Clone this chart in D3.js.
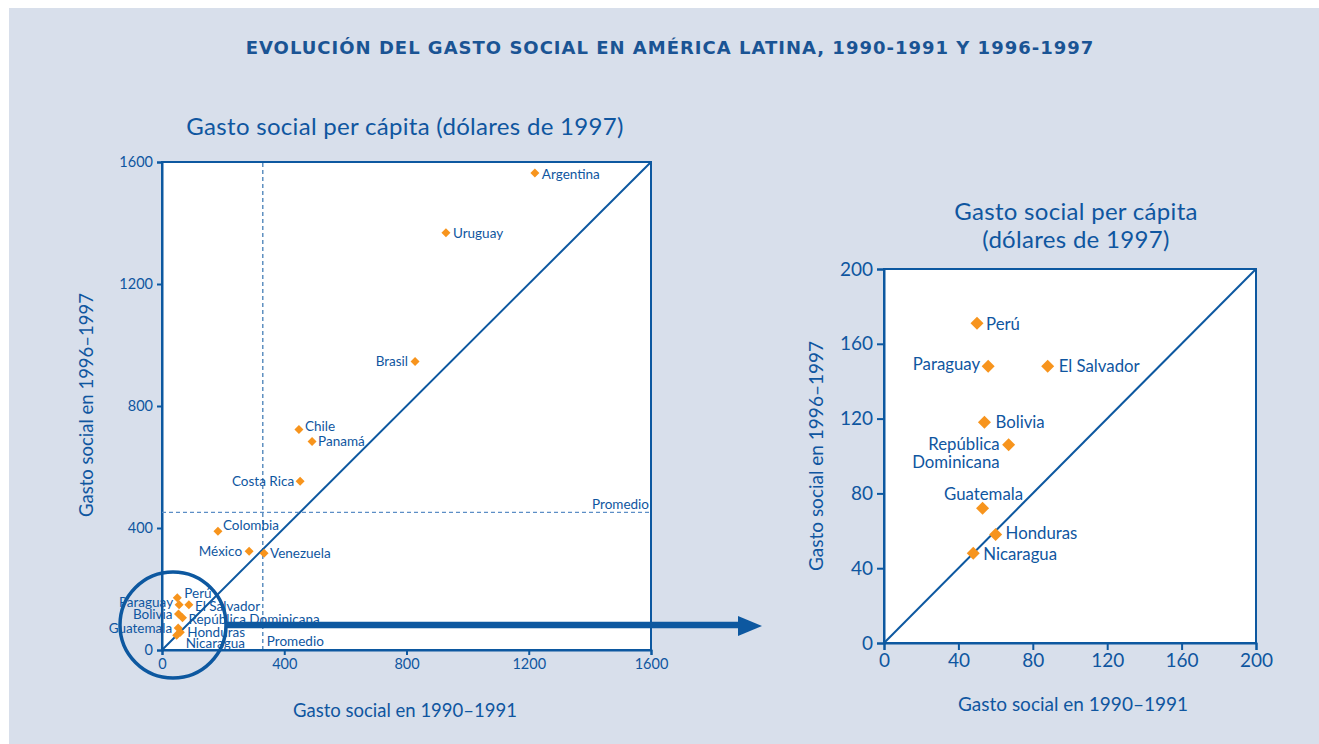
<html lang="es">
<head>
<meta charset="utf-8">
<title>Gasto social</title>
<style>
  body { margin: 0; background: #ffffff; }
  svg text { font-family: Lato, "Open Sans", sans-serif; fill: #0f56a0; }
</style>
</head>
<body>
<svg id="chart" width="1319" height="744"></svg>
<script src="https://cdn.jsdelivr.net/npm/d3@7"></script>
<script>
// datos: gasto social per capita (dolares de 1997)
var countries = ["Argentina", "Uruguay", "Brasil", "Chile", "Panamá", "Costa Rica", "Colombia", "México", "Venezuela",
                 "Perú", "Paraguay", "El Salvador", "Bolivia", "República Dominicana", "Guatemala", "Honduras", "Nicaragua"];
var gasto1990 = [1220, 929, 828, 448, 491, 452, 183, 285, 334, 50, 56, 88, 54, 67, 53, 60, 48];
var gasto1996 = [1564, 1368, 946, 723, 684, 553, 389, 324, 317, 171, 148, 148, 118, 106, 72, 58, 48];
var smallCountries = ["Perú", "Paraguay", "El Salvador", "Bolivia", "República Dominicana", "Guatemala", "Honduras", "Nicaragua"];
var promedio1990 = 330;
var promedio1996 = 451;
var ticksBig = [0, 400, 800, 1200, 1600];
var ticksSmall = [0, 40, 80, 120, 160, 200];

var blue = "#0d58a0";
var orange = "#f7941d";

// label placement (dx, dy, anchor)
var labelLeft = {
  "Argentina": [7, 1, "start"], "Uruguay": [7, 1, "start"], "Brasil": [-7, 0, "end"],
  "Chile": [6, -3, "start"], "Panamá": [6, 0, "start"], "Costa Rica": [-6, 0, "end"],
  "Colombia": [5, -6, "start"], "México": [-7, 0, "end"], "Venezuela": [6, 0, "start"],
  "Perú": [7, -5, "start"], "Paraguay": [-6, -3, "end"], "El Salvador": [6, 1, "start"],
  "Bolivia": [-6, 0, "end"], "República Dominicana": [6, 2, "start"], "Guatemala": [-6, 0, "end"],
  "Honduras": [7, 0, "start"], "Nicaragua": [9, 8, "start"]
};
var labelRight = {
  "Perú": [9, 1, "start"], "Paraguay": [-8, -2, "end"], "El Salvador": [11, 0, "start"],
  "Bolivia": [11, 0, "start"], "República Dominicana": [-9, -1, "end"], "Guatemala": [1, -14, "middle"],
  "Honduras": [10, -1, "start"], "Nicaragua": [10, 1, "start"]
};

var points = countries.map(function(c, i) { return { name: c, x: gasto1990[i], y: gasto1996[i] }; });
var smallPoints = points.filter(function(p) { return smallCountries.indexOf(p.name) >= 0; });

var svg = d3.select("#chart");

svg.append("rect").attr("x", 9).attr("y", 8).attr("width", 1310).attr("height", 736).attr("fill", "#d8dfeb");

svg.append("text").attr("x", 670).attr("y", 54).attr("text-anchor", "middle")
  .style("font-family", "'DejaVu Sans', sans-serif").style("font-weight", "bold").style("font-size", "18px")
  .style("letter-spacing", "1px").style("fill", "#1a5494")
  .text("EVOLUCIÓN DEL GASTO SOCIAL EN AMÉRICA LATINA, 1990-1991  Y 1996-1997");

function drawPanel(opt) {
  var x = d3.scaleLinear().domain([0, opt.max]).range([opt.left, opt.right]);
  var y = d3.scaleLinear().domain([0, opt.max]).range([opt.bottom, opt.top]);
  var g = svg.append("g");

  g.append("rect").attr("x", opt.left).attr("y", opt.top)
    .attr("width", opt.right - opt.left).attr("height", opt.bottom - opt.top)
    .attr("fill", "#ffffff").attr("stroke", blue).attr("stroke-width", 2);

  var xAxis = g.append("g").attr("transform", "translate(0," + opt.bottom + ")")
    .call(d3.axisBottom(x).tickValues(opt.ticks).tickSize(opt.tick).tickPadding(4).tickFormat(d3.format("d")));
  var yAxis = g.append("g").attr("transform", "translate(" + opt.left + ",0)")
    .call(d3.axisLeft(y).tickValues(opt.ticks).tickSize(opt.tick).tickPadding(4).tickFormat(d3.format("d")));
  [xAxis, yAxis].forEach(function(a) {
    a.select(".domain").attr("stroke", blue).attr("stroke-width", 2);
    a.selectAll(".tick line").attr("stroke", blue).attr("stroke-width", 2);
    a.selectAll(".tick text").style("font-size", opt.tickFont + "px").style("font-family", "Lato, sans-serif").attr("fill", blue);
  });

  g.append("line").attr("x1", x(0)).attr("y1", y(0)).attr("x2", x(opt.max)).attr("y2", y(opt.max))
    .attr("stroke", blue).attr("stroke-width", 2);

  if (opt.promedio) {
    g.append("line").attr("x1", x(promedio1990)).attr("x2", x(promedio1990))
      .attr("y1", y(0)).attr("y2", y(opt.max))
      .attr("stroke", blue).attr("stroke-width", 1).attr("stroke-dasharray", "4,3");
    g.append("line").attr("x1", x(0)).attr("x2", x(opt.max))
      .attr("y1", y(promedio1996)).attr("y2", y(promedio1996))
      .attr("stroke", "#5c8ec6").attr("stroke-width", 1.2).attr("stroke-dasharray", "4,3");
    g.append("text").attr("x", x(opt.max) - 2).attr("y", y(promedio1996) - 3).attr("text-anchor", "end")
      .style("font-size", opt.labelFont + "px").text("Promedio");
    g.append("text").attr("x", x(promedio1990) + 4).attr("y", y(0) - 4)
      .style("font-size", opt.labelFont + "px").text("Promedio");
  }

  var ds = opt.diamond;
  g.selectAll(".pt").data(opt.data).enter().append("path")
    .attr("d", "M0," + (-ds) + "L" + ds + ",0L0," + ds + "L" + (-ds) + ",0Z")
    .attr("transform", function(d) { return "translate(" + x(d.x) + "," + y(d.y) + ")"; })
    .attr("fill", orange);

  g.selectAll(".lbl").data(opt.data).enter().append("text")
    .attr("x", function(d) { return x(d.x) + opt.labels[d.name][0]; })
    .attr("y", function(d) { return y(d.y) + opt.labels[d.name][1]; })
    .attr("dy", "0.35em")
    .attr("text-anchor", function(d) { return opt.labels[d.name][2]; })
    .style("font-size", opt.labelFont + "px")
    .each(function(d) {
      var t = d3.select(this);
      if (opt.split && d.name === "República Dominicana") {
        t.append("tspan").attr("x", x(d.x) + opt.labels[d.name][0]).text("República");
        t.append("tspan").attr("x", x(d.x) + opt.labels[d.name][0]).attr("dy", "1.1em").text("Dominicana");
      } else {
        t.text(d.name);
      }
    });

  return { x: x, y: y };
}

var left = drawPanel({ left: 162, right: 651, top: 162, bottom: 650, max: 1600, ticks: ticksBig,
  tick: 5, tickFont: 14.5, labelFont: 13.5, diamond: 4.5, data: points, labels: labelLeft, promedio: true, split: false });

var right = drawPanel({ left: 884, right: 1256, top: 269, bottom: 643, max: 200, ticks: ticksSmall,
  tick: 7, tickFont: 19, labelFont: 16.8, diamond: 6.5, data: smallPoints, labels: labelRight, promedio: false, split: true });

// titulos
svg.append("text").attr("x", 405).attr("y", 135).attr("text-anchor", "middle").style("font-size", "24px")
  .style("letter-spacing", "0.3px").text("Gasto social per cápita (dólares de 1997)");
svg.append("text").attr("x", 1076).attr("y", 220).attr("text-anchor", "middle").style("font-size", "24px")
  .style("letter-spacing", "0.3px").text("Gasto social per cápita");
svg.append("text").attr("x", 1076).attr("y", 248).attr("text-anchor", "middle").style("font-size", "24px")
  .style("letter-spacing", "0.3px").text("(dólares de 1997)");

svg.append("text").attr("x", 405).attr("y", 717).attr("text-anchor", "middle").style("font-size", "18.5px")
  .text("Gasto social en 1990–1991");
svg.append("text").attr("transform", "translate(93,405) rotate(-90)").attr("text-anchor", "middle").style("font-size", "18.5px")
  .text("Gasto social en 1996–1997");
svg.append("text").attr("x", 1073).attr("y", 711).attr("text-anchor", "middle").style("font-size", "19px")
  .text("Gasto social en 1990–1991");
svg.append("text").attr("transform", "translate(823,456) rotate(-90)").attr("text-anchor", "middle").style("font-size", "19px")
  .text("Gasto social en 1996–1997");

// circulo y flecha
svg.append("circle").attr("cx", 173).attr("cy", 625).attr("r", 53)
  .attr("fill", "none").attr("stroke", blue).attr("stroke-width", 3.5);
svg.append("line").attr("x1", 226).attr("x2", 740).attr("y1", 625).attr("y2", 625)
  .attr("stroke", blue).attr("stroke-width", 6.5);
svg.append("path").attr("d", "M738,616L762,626L738,636Z").attr("fill", blue);
</script>
</body>
</html>
